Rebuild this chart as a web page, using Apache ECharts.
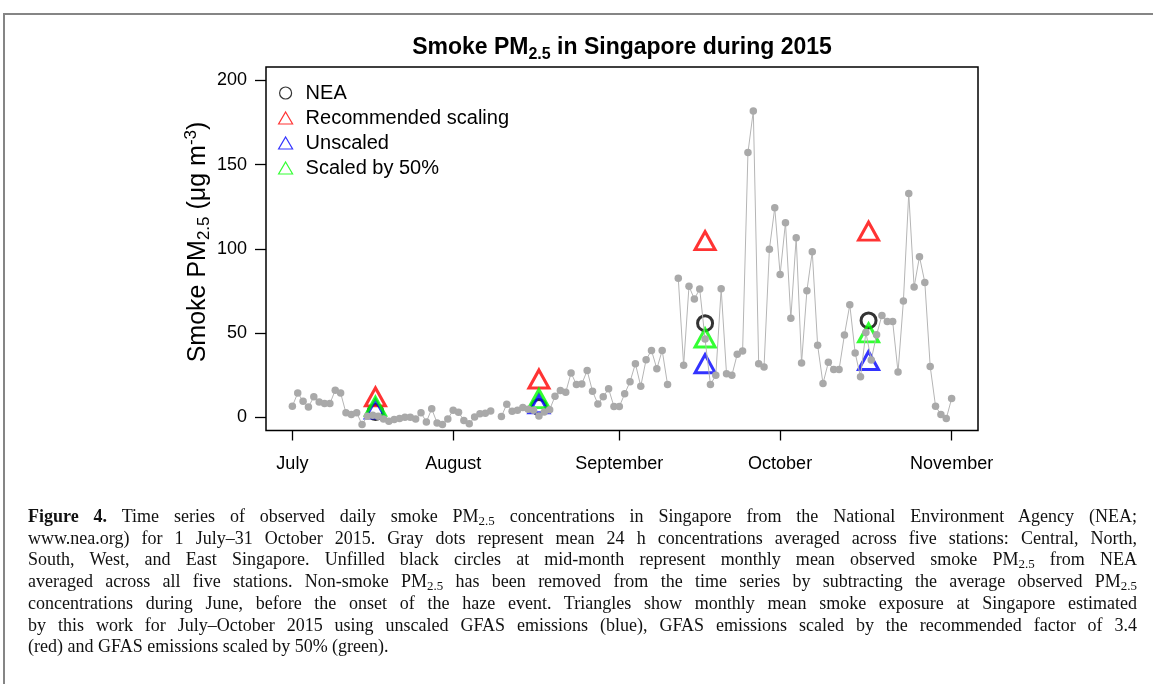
<!DOCTYPE html>
<html>
<head>
<meta charset="utf-8">
<title>Smoke PM2.5 in Singapore during 2015</title>
<script src="https://cdn.jsdelivr.net/npm/echarts@6/dist/echarts.min.js"></script>
<style>
html, body { margin: 0; padding: 0; background: #fff; overflow: hidden; }
#frame { position: absolute; left: 3px; top: 13px; width: 1200px; height: 700px; border-left: 2px solid #858585; border-top: 2px solid #858585; }
#chart { position: absolute; left: 0; top: 0; width: 1153px; height: 684px; }
#caption { position: absolute; left: 28px; top: 506px; width: 1109px; font-family: 'Liberation Serif', 'Times New Roman', serif; font-size: 18px; line-height: 21.7px; color: #111; }
#caption div { text-align: justify; text-align-last: justify; }
#caption div.last { text-align: left; text-align-last: left; }
#caption sub { font-size: 0.72em; vertical-align: -0.25em; line-height: 0; }
</style>
</head>
<body>
<div id="frame"></div>
<div id="chart"></div>
<div id="caption">
  <div><b>Figure 4.</b> Time series of observed daily smoke PM<sub>2.5</sub> concentrations in Singapore from the National Environment Agency (NEA;</div>
  <div>www.nea.org) for 1 July–31 October 2015. Gray dots represent mean 24 h concentrations averaged across five stations: Central, North,</div>
  <div>South, West, and East Singapore. Unfilled black circles at mid-month represent monthly mean observed smoke PM<sub>2.5</sub> from NEA</div>
  <div>averaged across all five stations. Non-smoke PM<sub>2.5</sub> has been removed from the time series by subtracting the average observed PM<sub>2.5</sub></div>
  <div>concentrations during June, before the onset of the haze event. Triangles show monthly mean smoke exposure at Singapore estimated</div>
  <div>by this work for July–October 2015 using unscaled GFAS emissions (blue), GFAS emissions scaled by the recommended factor of 3.4</div>
  <div class="last">(red) and GFAS emissions scaled by 50% (green).</div>
</div>
<script>
// daily smoke PM2.5, one value per day counted from 1 July (null = missing day)
var smokeDaily = [
    6.4, 14.3, 9.4, 6.0, 12.0, 9.0, 8.0, 8.0, 15.9, 14.3,
    2.5, 1.5, 2.5, -4.4, 0.5, 1.0, 0.5, -1.1, -2.5, -1.5,
    -0.9, -0.1, -0.1, -1.1, 2.5, -2.9, 4.9, -3.5, -4.4, -1.1,
    4.0, 2.9, -2.0, -4.0, 0.0, 2.0, 2.3, 3.6, null, 0.3,
    7.6, 3.5, 4.0, 5.7, 4.7, 4.0, 0.6, 3.0, 4.4, 12.3,
    15.7, 14.7, 26.2, 19.3, 19.7, 27.6, 15.3, 7.8, 12.0, 16.8,
    6.2, 6.2, 13.8, 21.0, 31.7, 18.3, 34.1, 39.6, 28.7, 39.6,
    19.3, null, 82.5, 30.7, 77.7, 70.1, 76.1, 46.3, 19.3, 24.8,
    76.2, 25.7, 24.8, 37.3, 39.2, 157.2, 181.9, 31.7, 29.8, 99.7,
    124.4, 84.7, 115.5, 58.7, 106.6, 32.1, 75.1, 98.2, 42.6, 19.9,
    32.5, 28.2, 28.2, 48.8, 66.7, 38.1, 23.9, 50.3, 33.9, 48.9,
    60.4, 56.8, 56.8, 26.7, 68.9, 132.9, 77.3, 95.3, 80.0, 30.1,
    6.4, 1.5, -0.9, 11.0
];

// monthly means, plotted at mid-month
var monthMidDays = [15.5, 46, 77, 107.5];
var neaMonthly = [3.0, 6.0, 55.8, 57.4];
var recommendedMonthly = [10.2, 20.8, 103.0, 108.7];
var unscaledMonthly = [3.0, 6.1, 29.9, 31.8];
var scaled50Monthly = [4.6, 9.2, 45.2, 48.2];

var monthTickDays = [0, 30, 61, 91, 123];
var monthLabels = ['July', 'August', 'September', 'October', 'November'];
var yTicks = [0, 50, 100, 150, 200];

var FONT = "'Liberation Sans', Arial, Helvetica, sans-serif";

function toPairs(xs, ys) {
    return ys.map(function (v, i) { return [xs[i], v]; });
}

function monthlySeries(name, data, color, symbol) {
    var tri = symbol === 'triangle';
    return {
        name: name,
        type: 'scatter',
        data: toPairs(monthMidDays, data),
        symbol: symbol,
        symbolSize: tri ? [20, 18] : 15,
        symbolOffset: tri ? [0, -3] : [0, 0],
        itemStyle: { color: 'rgba(0,0,0,0)', borderColor: color, borderWidth: 3 },
        emphasis: { disabled: true },
        silent: true
    };
}

function option() {
    return {
        animation: false,
        textStyle: { fontFamily: FONT },
        grid: {
            left: 266, top: 67, width: 712, height: 363.5,
            show: true, borderColor: '#000', borderWidth: 1.5, backgroundColor: 'rgba(0,0,0,0)'
        },
        graphic: [{
            type: 'text',
            x: 622, y: 48,
            style: {
                text: '{b|Smoke PM}{s|2.5}{b| in Singapore during 2015}',
                align: 'center', verticalAlign: 'middle',
                rich: {
                    b: { fontFamily: FONT, fontWeight: 'bold', fontSize: 23, lineHeight: 30, verticalAlign: 'middle', fill: '#000' },
                    s: { fontFamily: FONT, fontWeight: 'bold', fontSize: 16, lineHeight: 30, verticalAlign: 'bottom', fill: '#000' }
                }
            }
        }, {
            // y axis title
            type: 'text',
            x: 198, y: 242,
            rotation: Math.PI / 2,
            style: {
                text: '{t|Smoke PM}{s|2.5}{t| (μg m}{p|-3}{t|)}',
                align: 'center', verticalAlign: 'middle',
                rich: {
                    t: { fontFamily: FONT, fontSize: 25, lineHeight: 30, verticalAlign: 'middle', fill: '#000' },
                    s: { fontFamily: FONT, fontSize: 17, lineHeight: 30, verticalAlign: 'bottom', fill: '#000' },
                    p: { fontFamily: FONT, fontSize: 17, lineHeight: 30, verticalAlign: 'top', fill: '#000' }
                }
            }
        }],
        legend: {
            orient: 'vertical',
            left: 278, top: 83,
            padding: 0,
            itemGap: 5,
            itemWidth: 14, itemHeight: 12,
            itemStyle: { borderWidth: 1.2 },
            selectedMode: false,
            textStyle: { fontFamily: FONT, fontSize: 20, lineHeight: 20, color: '#000', padding: [0, 0, 0, 8] },
            data: ['NEA', 'Recommended scaling', 'Unscaled', 'Scaled by 50%']
        },
        xAxis: {
            type: 'value',
            min: -4.92, max: 127.92,
            axisLine: { show: false, onZero: false },
            splitLine: { show: false },
            axisTick: { show: true, length: 10, customValues: monthTickDays, lineStyle: { color: '#000', width: 1.3 } },
            axisLabel: {
                customValues: monthTickDays,
                margin: 25,
                fontSize: 18, color: '#000', fontFamily: FONT,
                formatter: function (v) { return monthLabels[monthTickDays.indexOf(v)]; }
            }
        },
        yAxis: {
            type: 'value',
            min: -8, max: 208,
            axisLine: { show: false, onZero: false },
            splitLine: { show: false },
            axisTick: { show: true, length: 11, customValues: yTicks, lineStyle: { color: '#000', width: 1.3 } },
            axisLabel: { customValues: yTicks, margin: 19, fontSize: 18, color: '#000', fontFamily: FONT }
        },
        series: [
            {
                name: 'Daily',
                type: 'line',
                data: smokeDaily.map(function (v, i) { return [i, v === null ? '-' : v]; }),
                symbol: 'circle',
                symbolSize: 7.5,
                showSymbol: true,
                connectNulls: false,
                itemStyle: { color: '#a9a9a9' },
                lineStyle: { color: '#b5b5b5', width: 1 },
                emphasis: { disabled: true },
                silent: true
            },
            monthlySeries('NEA', neaMonthly, '#000000', 'circle'),
            monthlySeries('Recommended scaling', recommendedMonthly, '#ff0000', 'triangle'),
            monthlySeries('Unscaled', unscaledMonthly, '#0000ff', 'triangle'),
            monthlySeries('Scaled by 50%', scaled50Monthly, '#00ff00', 'triangle')
        ]
    };
}

var myChart = echarts.init(document.getElementById('chart'), null, { renderer: 'canvas' });
myChart.setOption(option());
</script>
</body>
</html>
